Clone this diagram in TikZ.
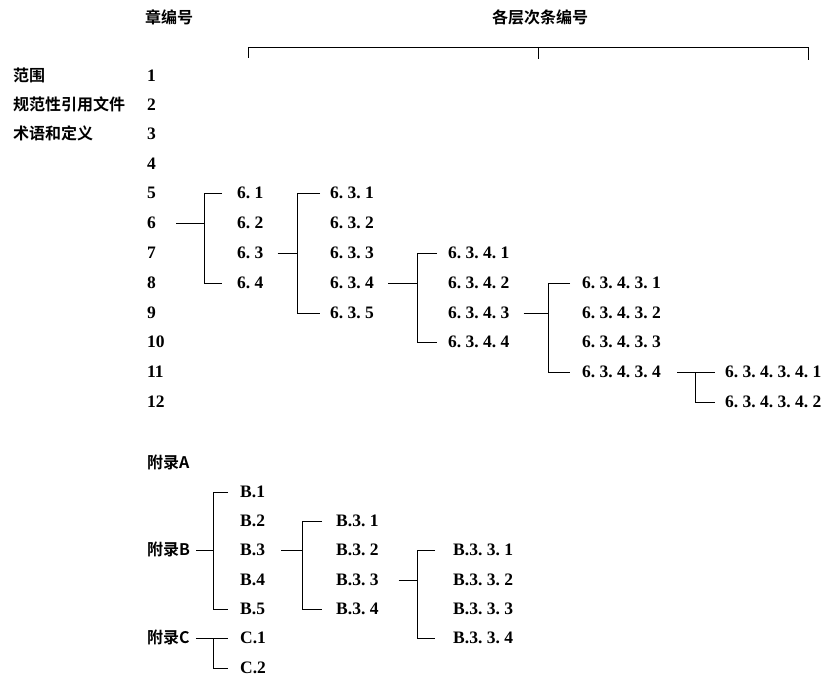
\documentclass[tikz,border=0pt]{standalone}
\usepackage{fontspec}
\setmainfont[WordSpace=1.0,BoldFont={Liberation Serif Bold}]{Liberation Serif}
\newfontfamily\cjk[BoldFont={Noto Sans CJK SC Bold}]{Noto Sans CJK SC}
\frenchspacing
\begin{document}
\begin{tikzpicture}[x=1pt,y=-1pt,
  lbl/.style={anchor=west,inner sep=0pt,text height=11.5pt,text depth=0pt,font=\bfseries\fontsize{17.5}{19}\selectfont\frenchspacing},
  zh/.style={anchor=west,inner sep=0pt,text height=11.5pt,text depth=0pt,font=\cjk\bfseries\fontsize{16}{18}\selectfont},
  ln/.style={line width=0.9pt}]
\useasboundingbox (0,0) rectangle (825,682);
% headers
\node[zh] (hch) at (145,18) {章编号};
\node[zh] (hsub) at (492,18) {各层次条编号};
\coordinate (bl) at (248,58);
\coordinate (br) at (808,60);
\coordinate (bm) at (538,47);
\draw[ln] (bl) -- (bl |- bm) -- (br |- bm) -- (br);
\draw[ln] (bm) -- ([yshift=-12pt]bm);
% left labels
\node[zh] (t1) at (13,76) {范围};
\node[zh] (t2) at (13,105) {规范性引用文件};
\node[zh] (t3) at (13,134) {术语和定义};
% chapter numbers
\node[lbl] (n1) at (147,76) {1};
\node[lbl] (n2) at (147,105) {2};
\node[lbl] (n3) at (147,134) {3};
\node[lbl] (n4) at (147,164) {4};
\node[lbl] (n5) at (147,193) {5};
\node[lbl] (n6) at (147,223) {6};
\node[lbl] (n7) at (147,253) {7};
\node[lbl] (n8) at (147,283) {8};
\node[lbl] (n9) at (147,313) {9};
\node[lbl] (n10) at (147,342) {10};
\node[lbl] (n11) at (147,372) {11};
\node[lbl] (n12) at (147,402) {12};
% level 2
\node[lbl] (a1) at (237,193) {6. 1};
\node[lbl] (a2) at (237,223) {6. 2};
\node[lbl] (a3) at (237,253) {6. 3};
\node[lbl] (a4) at (237,283) {6. 4};
% level 3
\node[lbl] (b1) at (330,193) {6. 3. 1};
\node[lbl] (b2) at (330,223) {6. 3. 2};
\node[lbl] (b3) at (330,253) {6. 3. 3};
\node[lbl] (b4) at (330,283) {6. 3. 4};
\node[lbl] (b5) at (330,313) {6. 3. 5};
% level 4
\node[lbl] (c1) at (448,253) {6. 3. 4. 1};
\node[lbl] (c2) at (448,283) {6. 3. 4. 2};
\node[lbl] (c3) at (448,313) {6. 3. 4. 3};
\node[lbl] (c4) at (448,342) {6. 3. 4. 4};
% level 5
\node[lbl] (d1) at (582,283) {6. 3. 4. 3. 1};
\node[lbl] (d2) at (582,313) {6. 3. 4. 3. 2};
\node[lbl] (d3) at (582,342) {6. 3. 4. 3. 3};
\node[lbl] (d4) at (582,372) {6. 3. 4. 3. 4};
% level 6
\node[lbl] (e1) at (725,372) {6. 3. 4. 3. 4. 1};
\node[lbl] (e2) at (725,402) {6. 3. 4. 3. 4. 2};
% junctions
\coordinate (J1) at (204,223);
\coordinate (J2) at (297,253);
\coordinate (J3) at (417,283);
\coordinate (J4) at (548,313);
\coordinate (J5) at (695,372);
\draw[ln] ([xshift=20pt]n6.east) -- (J1);
\draw[ln] ([xshift=-15pt]a1.west) -- (J1 |- a1) -- (J1 |- a4) -- ([xshift=-15pt]a4.west);
\draw[ln] ([xshift=14pt]a3.east) -- (J2);
\draw[ln] ([xshift=-10pt]b1.west) -- (J2 |- b1) -- (J2 |- b5) -- ([xshift=-10pt]b5.west);
\draw[ln] ([xshift=14pt]b4.east) -- (J3);
\draw[ln] ([xshift=-11pt]c1.west) -- (J3 |- c1) -- (J3 |- c4) -- ([xshift=-11pt]c4.west);
\draw[ln] ([xshift=14pt]c3.east) -- (J4);
\draw[ln] ([xshift=-12pt]d1.west) -- (J4 |- d1) -- (J4 |- d4) -- ([xshift=-12pt]d4.west);
\draw[ln] ([xshift=16pt]d4.east) -- ([xshift=-10pt]e1.west);
\draw[ln] (J5) -- (J5 |- e2) -- ([xshift=-10pt]e2.west);
% appendices
\node[zh] (pA) at (147,463) {附录A};
\node[zh] (pB) at (147,550) {附录B};
\node[zh] (pC) at (147,638) {附录C};
\node[lbl] (B1) at (240,492) {B.1};
\node[lbl] (B2) at (240,521) {B.2};
\node[lbl] (B3) at (240,550) {B.3};
\node[lbl] (B4) at (240,580) {B.4};
\node[lbl] (B5) at (240,609) {B.5};
\node[lbl] (C1) at (240,638) {C.1};
\node[lbl] (C2) at (240,668) {C.2};
\node[lbl] (B31) at (336,521) {B.3. 1};
\node[lbl] (B32) at (336,550) {B.3. 2};
\node[lbl] (B33) at (336,580) {B.3. 3};
\node[lbl] (B34) at (336,609) {B.3. 4};
\node[lbl] (B331) at (453,550) {B.3. 3. 1};
\node[lbl] (B332) at (453,580) {B.3. 3. 2};
\node[lbl] (B333) at (453,609) {B.3. 3. 3};
\node[lbl] (B334) at (453,638) {B.3. 3. 4};
\coordinate (K1) at (213,550);
\coordinate (K2) at (213,638);
\coordinate (K3) at (302,550);
\coordinate (K4) at (417,580);
\draw[ln] ([xshift=6pt]pB.east) -- (K1);
\draw[ln] ([xshift=-12pt]B1.west) -- (K1 |- B1) -- (K1 |- B5) -- ([xshift=-12pt]B5.west);
\draw[ln] ([xshift=6pt]pC.east) -- ([xshift=-12pt]C1.west);
\draw[ln] (K2) -- (K2 |- C2) -- ([xshift=-12pt]C2.west);
\draw[ln] ([xshift=16pt]B3.east) -- (K3);
\draw[ln] ([xshift=-14pt]B31.west) -- (K3 |- B31) -- (K3 |- B34) -- ([xshift=-14pt]B34.west);
\draw[ln] ([xshift=20pt]B33.east) -- (K4);
\draw[ln] ([xshift=-18pt]B331.west) -- (K4 |- B331) -- (K4 |- B334) -- ([xshift=-18pt]B334.west);
\end{tikzpicture}
\end{document}
